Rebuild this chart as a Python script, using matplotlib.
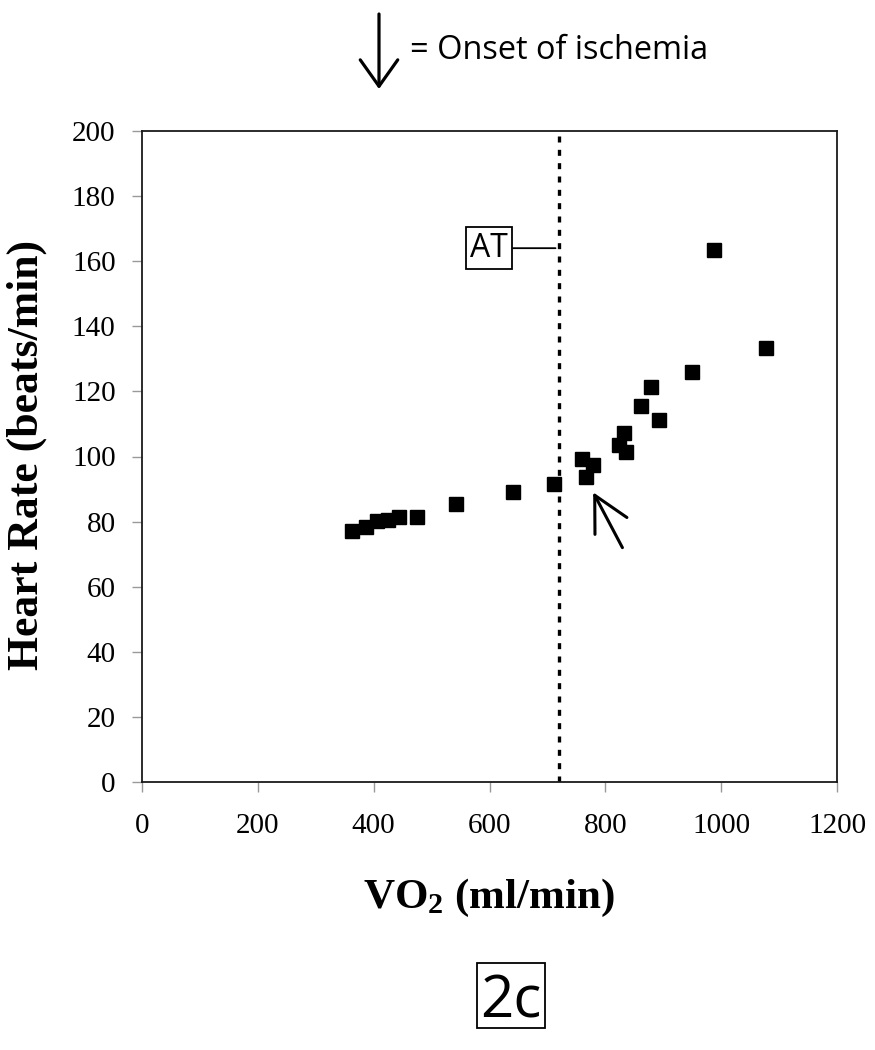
import matplotlib
matplotlib.use("Agg")
import matplotlib.pyplot as plt
from matplotlib.patches import Rectangle

# ---- data ----
vo2 = [363, 386, 406, 425, 443, 475, 543, 641, 712, 760, 767, 779,
       824, 832, 835, 861, 879, 892, 950, 987, 1078]
heart_rate = [77.2, 78.4, 80.3, 80.4, 81.5, 81.5, 85.4, 89.2, 91.5, 99.1, 93.8, 97.4,
              103.5, 107.3, 101.5, 115.5, 121.4, 111.2, 126.0, 163.4, 133.3]
at_vo2 = 720
x_ticks = [0, 200, 400, 600, 800, 1000, 1200]
y_ticks = [0, 20, 40, 60, 80, 100, 120, 140, 160, 180, 200]
ischemia_point = (779, 89)

plt.rcParams['mathtext.fontset'] = 'custom'
plt.rcParams['mathtext.rm'] = 'Liberation Serif:bold'
plt.rcParams['mathtext.it'] = 'Liberation Serif:bold'
plt.rcParams['mathtext.bf'] = 'Liberation Serif:bold'

W, H = 875, 1050
fig = plt.figure(figsize=(W / 100, H / 100), dpi=100)
ax = fig.add_axes([142 / W, 1 - 782 / H, 695 / W, 651 / H])

ax.plot(vo2, heart_rate, linestyle='none', marker='s', markersize=9.5,
        color='black', zorder=3)

ax.axvline(at_vo2, color='black', lw=2.4, linestyle=(0, (1.8, 2.2)), zorder=2)

ax.set_xlim(0, 1200)
ax.set_ylim(0, 200)
ax.set_xticks(x_ticks)
ax.set_yticks(y_ticks)
serif = 'Liberation Serif'
ax.set_xticklabels([str(t) for t in x_ticks], fontfamily=serif, fontsize=21)
ax.set_yticklabels([str(t) for t in y_ticks], fontfamily=serif, fontsize=21)
ax.tick_params(axis='x', direction='out', length=7, width=1, color='#999999', pad=15)
ax.tick_params(axis='y', direction='out', length=7, width=1, color='#999999', pad=12)
for s in ax.spines.values():
    s.set_linewidth(1.3)
    s.set_color('#1a1a1a')

# AT label with connector
ax.annotate('AT', xy=(714, 164), xytext=(599, 164), textcoords='data',
            ha='center', va='center', fontsize=23, fontfamily='Open Sans',
            bbox=dict(boxstyle='square,pad=0.14', fc='white', ec='black', lw=1.3),
            arrowprops=dict(arrowstyle='-', lw=1.3, color='black',
                            shrinkA=0, shrinkB=0))

# ischemia arrow
ax.annotate('', xy=ischemia_point, xytext=(829.5, 72),
            arrowprops=dict(arrowstyle='->,head_length=2.5,head_width=1.3',
                            lw=2.2, color='black', mutation_scale=10,
                            shrinkA=0, shrinkB=0))

# axis labels
fig.text(27 / W, 1 - 455 / H, 'Heart Rate (beats/min)', rotation=90,
         ha='center', va='center', fontfamily=serif, fontweight='bold', fontsize=31.5)
fig.text(489 / W, 1 - 898 / H, r'VO$_2$ (ml/min)', ha='center', va='center',
         fontfamily=serif, fontweight='bold', fontsize=31)

# overlay axes in pixel coordinates for the annotations outside the plot
ann = fig.add_axes([0, 0, 1, 1], facecolor='none')
ann.set_axis_off()
ann.set_xlim(0, W)
ann.set_ylim(H, 0)
ann.annotate('', xy=(379, 89), xytext=(379, 14), xycoords='data',
             arrowprops=dict(arrowstyle='->,head_length=1.9,head_width=1.35',
                             lw=2.3, color='black', mutation_scale=10,
                             shrinkA=0, shrinkB=0))
ann.text(410, 59, '= Onset of ischemia', ha='left', va='baseline',
         fontfamily='Open Sans', fontsize=23.4)

# 2c label
ann.add_patch(Rectangle((477, 963), 68, 65, fill=False, ec='black', lw=1.3))
ann.text(511, 1017, '2c', ha='center', va='baseline', fontfamily='Open Sans',
         fontsize=42)

fig.savefig('out.png', dpi=100)
